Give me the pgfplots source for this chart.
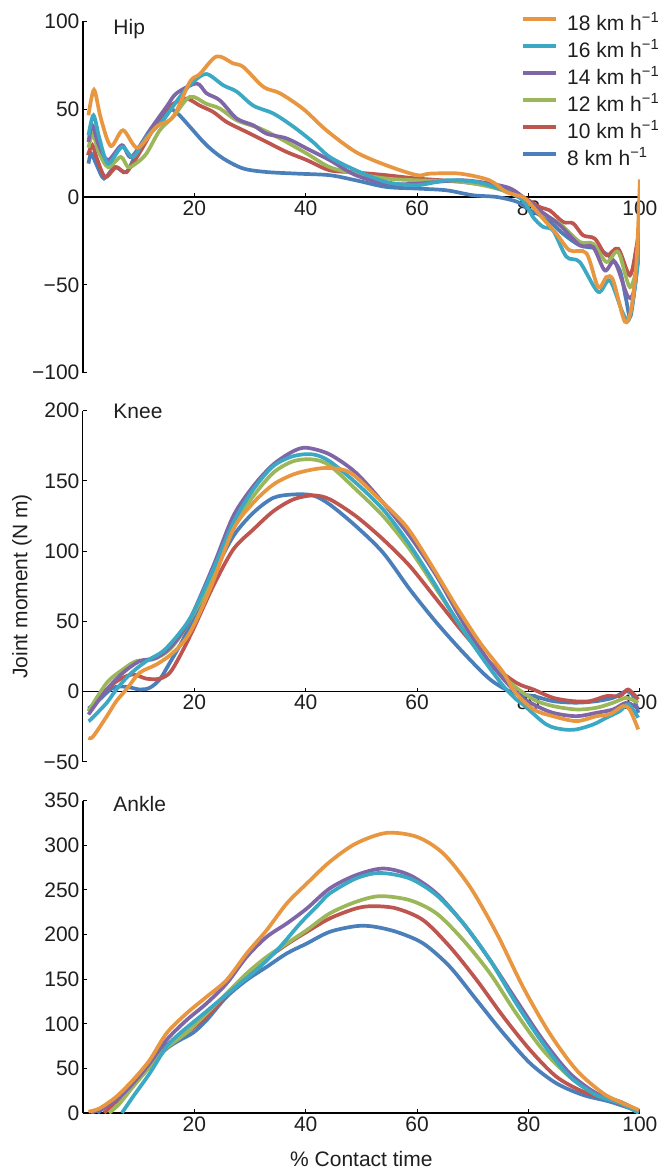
\documentclass[border=0pt]{standalone}
\usepackage{fontspec}
\setmainfont{Liberation Sans}
\usepackage{pgfplots}
\pgfplotsset{compat=1.18}
\definecolor{corange}{HTML}{E8963F}
\definecolor{cteal}{HTML}{3BA9C4}
\definecolor{cpurple}{HTML}{7F66A6}
\definecolor{cgreen}{HTML}{9BB75A}
\definecolor{cred}{HTML}{BE554F}
\definecolor{cblue}{HTML}{4A7FBA}
\pgfplotsset{
  common/.style={
    scale only axis, width=557pt, xmin=0, xmax=100,
    axis y line=left, axis x line=middle,
    axis line style={-, line width=1.2pt, black},
    tick align=inside, major tick length=4pt,
    tick style={black, line width=1pt},
    xtick={20,40,60,80,100}, xticklabels={20,40,60,80,100},
    hide obscured x ticks=false, hide obscured y ticks=false,
    tick label style={text=black!88},
    every axis plot/.append style={line width=3.7pt, smooth, tension=0.5},
    clip mode=individual,
  },
}
\begin{document}
\begin{tikzpicture}[x=1pt,y=1pt,font=\fontsize{21}{25}\selectfont]
\useasboundingbox (0,0) rectangle (661,1171);
% ---------------- Hip
\begin{axis}[common, at={(82.9pt,798.3pt)}, anchor=south west, height=351.4pt,
  ymin=-100, ymax=100, ytick={-100,-50,0,50,100}, yticklabels={−100,−50,0,50,100},
  legend style={at={(0.7875,1.017)}, anchor=north west, draw=none, fill=none,
    inner sep=0pt, outer sep=0pt, row sep=8.2pt, column sep=0pt,
    nodes={inner sep=0pt, text height=14.8pt, text depth=4pt, text=black!88}},
  legend cell align=left, reverse legend,
  legend image code/.code={\draw[#1] (0pt,5.5pt) -- (33pt,5.5pt); \path (42pt,5.5pt);},
]
\addplot[cblue] coordinates {(1,19)(1.5,24.7)(2.5,18)(3.8,10.5)(5.7,17)(7.8,14.2)(9.6,24.7)(12.6,38)(15,49.4)(16.2,49.5)(17.5,46)(19.2,40)(22.2,29.5)(25.2,21.9)(28.8,16.2)(33,14.2)(38.4,13.3)(44.3,12.4)(49,9.5)(54.5,5.7)(60,4.8)(65.3,3.8)(70,1)(74.3,0)(78,-2.8)(80.3,-7.6)(83.2,-12.3)(86.2,-20.9)(89.2,-27.5)(92.2,-29.4)(94.6,-34)(96.4,-41.8)(97.5,-58)(98.3,-68)(99.3,-45)(100,-15)};
\addlegendentry{8 km h\textsuperscript{−1}}
\addplot[cred] coordinates {(0.9,23.8)(1.7,29.5)(2.5,22)(4,11.4)(6,17)(7.8,14.2)(10.8,28.5)(13.8,45.6)(16.2,53)(18.6,56)(21,52)(23.4,48.4)(25.8,42.7)(29.4,37)(33,31.3)(36.6,25.6)(40.2,21)(44.3,15.2)(49,14)(54.5,12.4)(60,10.5)(68.3,8.5)(75.5,4.8)(79,0)(82,-5.7)(83.8,-7.6)(86.2,-14.2)(88,-15)(89.8,-21.8)(91.9,-23.7)(94,-33.2)(96.1,-29.4)(98.2,-44.6)(99.4,-28)(100,-15)};
\addlegendentry{10 km h\textsuperscript{−1}}
\addplot[cgreen] coordinates {(1,28)(1.8,36)(2.8,26)(4.5,17)(6.8,22.8)(8.1,17)(9.5,19)(11.4,24.7)(13.8,38)(16.2,45.6)(19.2,57)(22.2,53)(24.6,50.3)(27.6,43.7)(31.8,39)(35.4,33.3)(40.2,24.7)(44.3,17)(49,13.3)(54.5,10.5)(60,9.5)(68.3,8.5)(74.3,4.8)(79,-1)(82,-8.5)(85.6,-15.2)(89.2,-25.6)(91.6,-26.6)(94,-37)(96.1,-31.3)(98.2,-51.3)(99.7,-36)(100,-20)};
\addlegendentry{12 km h\textsuperscript{−1}}
\addplot[cpurple] coordinates {(1,31.3)(1.7,40.8)(2.8,30)(4.5,21)(7,29.5)(8.7,22.8)(12,38)(15,51.3)(16.8,59)(20.4,64.6)(22.2,59)(24.6,55)(27.6,44.7)(30.6,40.8)(33,36)(36.6,33.3)(40.2,27.6)(44.3,21)(49,12.4)(54.5,7.6)(60,7.6)(68.3,9.5)(76,5.7)(79,0)(82,-7.6)(85.6,-16)(89.2,-27.5)(91.6,-28.5)(93.7,-41.8)(95.5,-37)(97.9,-57)(99.1,-51)(100,-22)};
\addlegendentry{14 km h\textsuperscript{−1}}
\addplot[cteal] coordinates {(1,35)(1.9,46.5)(3,33)(4.5,19)(7,28.5)(9,22.8)(11.4,34)(14.4,43.7)(17.4,57)(19.8,65.5)(22.2,70)(25.2,63.6)(27.6,60)(30.6,52)(34.2,47.5)(37.8,40)(41.3,31.3)(44.3,22.8)(49,15.2)(54.5,8.5)(60,6.7)(65.3,9.5)(70.7,8.5)(75.5,3.8)(79,-1.9)(80.8,-11.4)(82.6,-17)(84.4,-19)(86.8,-34)(89.2,-37)(92.5,-54)(94.6,-47.5)(97,-66.5)(98.2,-68.4)(99.7,-36)(100,-15)};
\addlegendentry{16 km h\textsuperscript{−1}}
\addplot[corange] coordinates {(1,46.5)(2,61)(3.2,45)(5,29)(7.2,38)(9.8,28)(13.2,40)(16.2,45.6)(19.2,65.5)(21,70)(24,80)(27,76)(28.8,74)(32.4,62.7)(35.4,59)(39.6,50)(43.7,38)(49,25.6)(54.5,18)(60,12.4)(62.3,13.3)(67.7,13.3)(73,9.5)(76,2.8)(79,0)(80.3,-3.8)(82.6,-12.3)(85,-20.9)(87.4,-30.4)(90.4,-32)(92.5,-51.3)(94,-45.6)(95.2,-47.5)(97.3,-71)(98.5,-62.7)(99.4,-36)(100,10)};
\addlegendentry{18 km h\textsuperscript{−1}}
\node[anchor=base west, text=black!88] at (rel axis cs:0.0485,0.961) {Hip};
\end{axis}
% ---------------- Knee
\begin{axis}[common, at={(82.9pt,409pt)}, anchor=south west, height=351.3pt,
  ymin=-50, ymax=200, ytick={-50,0,50,100,150,200}, yticklabels={−50,0,50,100,150,200},
  ylabel={Joint moment (N m)},
  ylabel style={at={(axis description cs:-0.1095,0.5)}, anchor=center, text=black!88},
]
\addplot[cblue] coordinates {(1,-12)(3,-5.5)(5.4,2.8)(7.8,3.5)(10.2,1.6)(12,2.8)(13.8,8.8)(15.6,20.6)(18,37.2)(20.5,58)(23.4,83.5)(27,110.7)(30.6,127.4)(34.2,138)(37.8,140.4)(41.3,139.7)(44.3,133.3)(49,117.9)(53.9,98.9)(58.7,72.8)(63.5,49.1)(68.3,27.8)(73.1,8.8)(77.2,-0.7)(80.9,-3.1)(84.4,-6.7)(88.6,-7.8)(92.2,-6.7)(95.2,-4.3)(97.6,0.4)(98.8,-3)(99.7,-15)};
\addplot[cred] coordinates {(1,-13.8)(4.3,1.6)(6.6,8.8)(9,12.3)(11.4,9.3)(13.8,9.3)(15.6,13.5)(17.4,25.3)(19.8,44.3)(23.4,75.2)(27,101.3)(30.6,115.5)(34.2,128.5)(37.8,136.9)(41.3,139.7)(44.3,137)(49,125)(53.9,108.4)(58.7,89.4)(63.5,65.7)(68.3,42)(73.1,20.6)(77.8,6.4)(80.9,1.6)(84.4,-4.3)(88,-6.7)(91,-6.7)(94,-3.1)(96.4,-3.1)(97.9,1.6)(99.7,-5.5)};
\addplot[cgreen] coordinates {(1,-13.8)(4.3,6.4)(7.2,15.9)(9.6,21.8)(12.6,23)(15.6,30.1)(18.6,46.7)(23.4,82.3)(27,117.9)(30.6,139.2)(34.2,155.9)(37.8,164.1)(41.3,165.3)(44.3,161)(49,144)(53.9,125)(58.7,101.3)(63.5,72.8)(68.3,44.3)(72.5,23)(76.7,6.4)(80.9,-5.5)(84.4,-10.2)(88.6,-12.6)(92.2,-11.4)(95.2,-7.8)(97.6,-4.3)(99.7,-7.8)};
\addplot[cpurple] coordinates {(1,-16.2)(4.3,1.6)(7.2,13.5)(10.2,21.8)(13.2,24.2)(16.2,33.7)(19.2,51.5)(23.4,89.4)(27,125)(30.6,146.3)(34.2,161.8)(37.8,171.2)(40.2,173.6)(44.3,168.9)(49,155.9)(53.9,134.5)(58.7,110.7)(63.5,82.3)(68.3,49.1)(73.1,20.6)(77.8,-0.7)(80.9,-9)(84.4,-15)(88.6,-17.4)(92.2,-15)(95.2,-12.6)(97.6,-7.8)(99.7,-12)};
\addplot[cteal] coordinates {(1,-20.9)(1.6,-19)(4.3,-7.8)(6,1.6)(8.4,12.3)(11.4,21.8)(14.4,28.9)(17.4,42)(19.8,56.2)(23.4,87)(27,120.3)(30.6,144)(34.2,160.6)(37.8,167.7)(41.3,168.9)(44.3,164)(49,148.7)(53.9,129.7)(58,108.4)(62.3,82.3)(67,51.5)(71.9,23)(75.5,4)(77.8,-5.5)(79,-9)(83.2,-23.3)(86.2,-26.8)(88.6,-26.8)(91.6,-23.3)(94,-18.5)(96.4,-13.8)(97.9,-9)(99.7,-18.5)};
\addplot[corange] coordinates {(1,-32.7)(1.8,-32)(4.3,-17.4)(6,-6.7)(7.8,1.6)(10.2,13.5)(13.2,19.4)(16.2,27.8)(19.2,42)(22.8,72.8)(27,115.5)(30.6,134.5)(34.2,147.5)(37.8,154.7)(41.3,158.2)(44.3,159.2)(48,155.9)(52.7,139)(58,117.9)(62.3,91.8)(67,61)(71.3,34.9)(75.5,13.5)(77.5,0)(80.9,-12.6)(84.4,-17.4)(88.6,-20.9)(92.2,-17.4)(94.6,-16)(97,-10.2)(98.2,-13)(99.7,-26.8)};
\node[anchor=base west, text=black!88] at (rel axis cs:0.0485,0.978) {Knee};
\end{axis}
% ---------------- Ankle
\begin{axis}[common, at={(82.9pt,58pt)}, anchor=south west, height=312.3pt,
  ymin=0, ymax=350, ytick={0,50,100,150,200,250,300,350},
  yticklabels={0,50,100,150,200,250,300,350},
  xlabel={\% Contact time},
  xlabel style={at={(axis description cs:0.5,-0.147)}, anchor=center, text=black!88},
]
\addplot[cblue] coordinates {(2.6,0)(3,2)(6,16.4)(9,31)(12,52)(15,72)(17.4,81.7)(19.8,90)(22.2,104)(25.8,130.2)(29.4,149)(33,163.8)(36.6,178.8)(40.2,190)(44.3,203)(49,209.4)(52.1,209)(56.3,203)(61.1,190)(65.9,163.8)(70.7,126.5)(75.5,89.2)(80.3,55.7)(85,33.3)(89.8,20.2)(94.6,12.7)(99.8,2)};
\addplot[cred] coordinates {(3.8,0)(6,13)(9,31)(12,55.7)(15,76)(18.6,90)(22.2,108)(25.8,132)(29.4,155)(33,173)(36.6,189)(40.2,203)(44.3,218)(49,229.2)(52.1,231.8)(56.3,229.2)(61.1,216.1)(65.9,186.2)(70.7,149)(75.5,107.8)(80.3,70.5)(85,40.7)(89.8,23.9)(94.6,14.6)(99.8,2)};
\addplot[cgreen] coordinates {(4.7,0)(6.5,10)(9,29.5)(12,51.9)(15,73)(18.6,90)(22.2,111.6)(25.8,134)(29.4,156.4)(33,175)(36.6,190)(40.2,205)(44.3,223.6)(49,236.6)(53.3,243)(58.7,238.5)(63.5,223.6)(68.3,193.7)(73.1,156.4)(77.8,111.6)(82.6,70.5)(87.4,40.7)(92.2,20.2)(96.4,12.7)(99.8,2)};
\addplot[cpurple] coordinates {(1.4,0)(3,4)(6,14.6)(9,33.3)(12,55.7)(15,81.7)(18.6,104)(22.2,122.8)(25.8,145.2)(29.4,175)(33,197.4)(36.6,212.4)(40.2,229.2)(44.3,251.6)(49,266.5)(53.9,274)(58.7,266.5)(63.5,246)(68.3,212.4)(73.1,171.3)(77.8,126.5)(82.6,81.7)(87.4,44.5)(92.2,22)(96.4,12.7)(99.8,2)};
\addplot[cteal] coordinates {(7,0)(9,18.3)(12,44.5)(15,74.2)(17.4,89.2)(21,107.8)(24.6,126.5)(28.2,145.2)(31.8,163.8)(35.4,186.2)(39,212.4)(42.5,234.8)(44.3,246)(49,262.8)(53.3,269)(58.7,262.8)(63.5,244.1)(68.3,212.4)(73.1,171.3)(77.8,122.8)(82.6,78)(87.4,40.7)(92.2,20.2)(96.4,10.9)(99.8,0)};
\addplot[corange] coordinates {(1,1.5)(3,5.2)(6,18.3)(9,37)(12,59.4)(15,89.2)(18.6,111.6)(22.2,130.2)(25.8,149)(29.4,178.8)(33,205)(36.6,234.8)(40.2,257.2)(44.3,281.4)(49,302)(54.5,313.9)(60,309.4)(64.7,290.8)(69.5,253.4)(74.3,201.2)(79,141.4)(83.8,89.2)(88.6,48.2)(93.4,22)(97,10.9)(99.8,3.4)};
\node[anchor=base west, text=black!88] at (rel axis cs:0.0485,0.965) {Ankle};
\end{axis}
\end{tikzpicture}
\end{document}
